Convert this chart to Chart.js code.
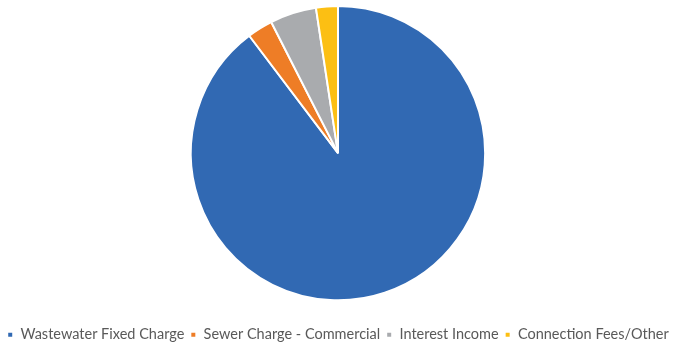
<!DOCTYPE html>
<html>
<head>
<meta charset="utf-8">
<script src="https://cdn.jsdelivr.net/npm/chart.js@4"></script>
<style>
  html, body { margin: 0; padding: 0; background: #fff; }
  #wrap { width: 690px; height: 346px; }
</style>
</head>
<body>
<div id="wrap"><canvas id="revenuePie"></canvas></div>
<script>
const categories = ["Wastewater Fixed Charge", "Sewer Charge - Commercial", "Interest Income", "Connection Fees/Other"];
const shares = [89.7, 2.8, 5.1, 2.4];
const colors = ["#3169b3", "#ee7d26", "#a9abae", "#fcbf13"];

new Chart(document.getElementById("revenuePie"), {
  type: "pie",
  data: {
    labels: categories,
    datasets: [{
      data: shares,
      backgroundColor: colors,
      borderColor: "#ffffff",
      borderWidth: 2,
    }],
  },
  options: {
    responsive: true,
    maintainAspectRatio: false,
    animation: false,
    layout: { padding: { top: 5, right: 14, bottom: -6 } },
    plugins: {
      tooltip: { enabled: false },
      legend: {
        position: "bottom",
        // blank title just adds room between the pie and the legend row
        title: { display: true, text: "", font: { size: 1 }, padding: { top: 19, bottom: 0 } },
        labels: {
          boxWidth: 6,
          boxHeight: 6,
          padding: 6,
          color: "#595959",
          font: { family: "Lato", size: 14.5 },
        },
      },
    },
  },
});
</script>
</body>
</html>
